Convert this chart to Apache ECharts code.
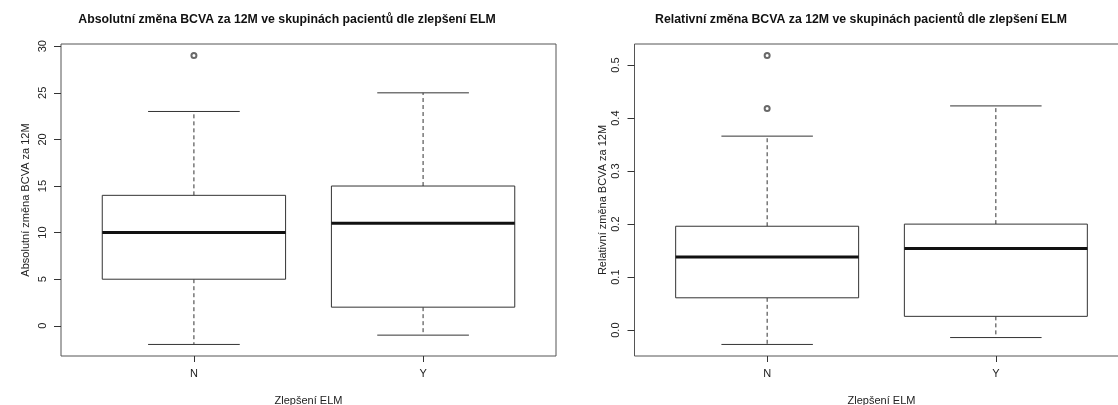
<!DOCTYPE html>
<html>
<head>
<meta charset="utf-8">
<script src="https://cdn.jsdelivr.net/npm/echarts@6/dist/echarts.min.js"></script>
<style>
  html, body { margin: 0; padding: 0; background: #fff; overflow: hidden; width: 1118px; height: 405px; }
  #chart { width: 1140px; height: 420px; }
</style>
</head>
<body>
<div id="chart"></div>
<script>
// ---- data ----
const groups = ['N', 'Y'];
const groupPos = [1, 2];

const absTitle = 'Absolutní změna BCVA za 12M ve skupinách pacientů dle zlepšení ELM';
const relTitle = 'Relativní změna BCVA za 12M ve skupinách pacientů dle zlepšení ELM';
const absYName = 'Absolutní změna BCVA za 12M';
const relYName = 'Relativní změna BCVA za 12M';
const xName = 'Zlepšení ELM';

const absLow = [-2, -1];
const absQ1 = [5, 2];
const absMed = [10, 11];
const absQ3 = [14, 15];
const absHigh = [23, 25];
const absOutliers = [[29], []];
const absTicks = [0, 5, 10, 15, 20, 25, 30];

const relLow = [-0.027, -0.014];
const relQ1 = [0.061, 0.026];
const relMed = [0.138, 0.154];
const relQ3 = [0.196, 0.200];
const relHigh = [0.366, 0.423];
const relOutliers = [[0.518, 0.418], []];
const relTicks = [0.0, 0.1, 0.2, 0.3, 0.4, 0.5];

// ---- build ----
function boxData(low, q1, med, q3, high) {
  return groupPos.map((p, i) => [p, low[i], q1[i], med[i], q3[i], high[i]]);
}
function outlierData(outs) {
  const res = [];
  outs.forEach((arr, i) => arr.forEach(v => res.push([groupPos[i], v])));
  return res;
}
function paddedRange(lows, highs, outs) {
  const all = lows.concat(highs);
  outs.forEach(a => a.forEach(v => all.push(v)));
  const mn = Math.min.apply(null, all), mx = Math.max.apply(null, all);
  const pad = (mx - mn) * 0.04;
  return [mn - pad, mx + pad];
}

const FONT = '"Liberation Sans", Arial, sans-serif';
const LINE = '#333';

function renderBox(params, api) {
  const x = api.value(0);
  const c = api.coord([x, api.value(3)]);
  const cx = c[0];
  const yLow = api.coord([x, api.value(1)])[1];
  const yQ1 = api.coord([x, api.value(2)])[1];
  const yMed = c[1];
  const yQ3 = api.coord([x, api.value(4)])[1];
  const yHigh = api.coord([x, api.value(5)])[1];
  const halfW = api.size([0.4, 0])[0];
  const capW = api.size([0.2, 0])[0];
  const thin = { stroke: LINE, lineWidth: 1, fill: null };
  const dashed = { stroke: LINE, lineWidth: 1, lineDash: [4, 3] };
  return {
    type: 'group',
    children: [
      { type: 'line', shape: { x1: cx, y1: yQ3, x2: cx, y2: yHigh }, style: dashed },
      { type: 'line', shape: { x1: cx, y1: yQ1, x2: cx, y2: yLow }, style: dashed },
      { type: 'line', shape: { x1: cx - capW, y1: yHigh, x2: cx + capW, y2: yHigh }, style: thin },
      { type: 'line', shape: { x1: cx - capW, y1: yLow, x2: cx + capW, y2: yLow }, style: thin },
      { type: 'rect', shape: { x: cx - halfW, y: yQ3, width: 2 * halfW, height: yQ1 - yQ3 }, style: { stroke: LINE, lineWidth: 1, fill: '#fff' } },
      { type: 'line', shape: { x1: cx - halfW, y1: yMed, x2: cx + halfW, y2: yMed }, style: { stroke: '#111', lineWidth: 3 } }
    ]
  };
}

const absRange = paddedRange(absLow, absHigh, absOutliers);
const relRange = paddedRange(relLow, relHigh, relOutliers);

function xAxisDef(gridIndex) {
  return {
    type: 'value', gridIndex: gridIndex, min: 0.42, max: 2.58,
    splitLine: { show: false },
    axisLine: { show: false, onZero: false },
    axisTick: { show: true, inside: false, length: 6, customValues: groupPos, lineStyle: { color: LINE } },
    axisLabel: { customValues: groupPos, margin: 12, color: '#222', fontSize: 11, fontFamily: FONT,
      formatter: v => groups[groupPos.indexOf(v)] || '' },
    name: xName, nameLocation: 'middle', nameGap: 39,
    nameTextStyle: { color: '#222', fontSize: 11, fontFamily: FONT }
  };
}
function yAxisDef(gridIndex, range, ticks, name, nameGap, fmt) {
  return {
    type: 'value', gridIndex: gridIndex, min: range[0], max: range[1],
    splitLine: { show: false },
    axisLine: { show: false, onZero: false },
    axisTick: { show: true, inside: false, length: 7, customValues: ticks, lineStyle: { color: LINE } },
    axisLabel: { customValues: ticks, rotate: 90, margin: 13, color: '#222', fontSize: 11, fontFamily: FONT, formatter: fmt },
    name: name, nameLocation: 'middle', nameGap: nameGap, nameRotate: 90,
    nameTextStyle: { color: '#222', fontSize: 11, fontFamily: FONT }
  };
}

const outlierStyle = { color: '#444', borderColor: '#444', borderWidth: 1 };

const chart = echarts.init(document.getElementById('chart'), null, { renderer: 'canvas' });
chart.setOption({
  animation: false,
  backgroundColor: '#fff',
  textStyle: { fontFamily: FONT },
  graphic: [
    { type: 'text', x: 287, y: 20, style: { text: absTitle, align: 'center', verticalAlign: 'middle', font: 'bold 12.3px ' + FONT, fill: '#111' } },
    { type: 'text', x: 861, y: 20, style: { text: relTitle, align: 'center', verticalAlign: 'middle', font: 'bold 12.3px ' + FONT, fill: '#111' } }
  ],
  grid: [
    { left: 61, top: 44, width: 495, height: 312, show: true, borderColor: '#555', borderWidth: 1, backgroundColor: 'transparent', outerBoundsMode: 'none', containLabel: false },
    { left: 634.5, top: 44, width: 494, height: 312, show: true, borderColor: '#555', borderWidth: 1, backgroundColor: 'transparent', outerBoundsMode: 'none', containLabel: false }
  ],
  xAxis: [xAxisDef(0), xAxisDef(1)],
  yAxis: [
    yAxisDef(0, absRange, absTicks, absYName, 29.5, v => String(v)),
    yAxisDef(1, relRange, relTicks, relYName, 26, v => v.toFixed(1))
  ],
  series: [
    { type: 'custom', xAxisIndex: 0, yAxisIndex: 0, renderItem: renderBox, data: boxData(absLow, absQ1, absMed, absQ3, absHigh), encode: { x: 0, y: [1, 2, 3, 4, 5] }, clip: false, z: 2 },
    { type: 'scatter', xAxisIndex: 0, yAxisIndex: 0, symbol: 'emptyCircle', symbolSize: 5, itemStyle: outlierStyle, data: outlierData(absOutliers), z: 3 },
    { type: 'custom', xAxisIndex: 1, yAxisIndex: 1, renderItem: renderBox, data: boxData(relLow, relQ1, relMed, relQ3, relHigh), encode: { x: 0, y: [1, 2, 3, 4, 5] }, clip: false, z: 2 },
    { type: 'scatter', xAxisIndex: 1, yAxisIndex: 1, symbol: 'emptyCircle', symbolSize: 5, itemStyle: outlierStyle, data: outlierData(relOutliers), z: 3 }
  ]
});
</script>
</body>
</html>
